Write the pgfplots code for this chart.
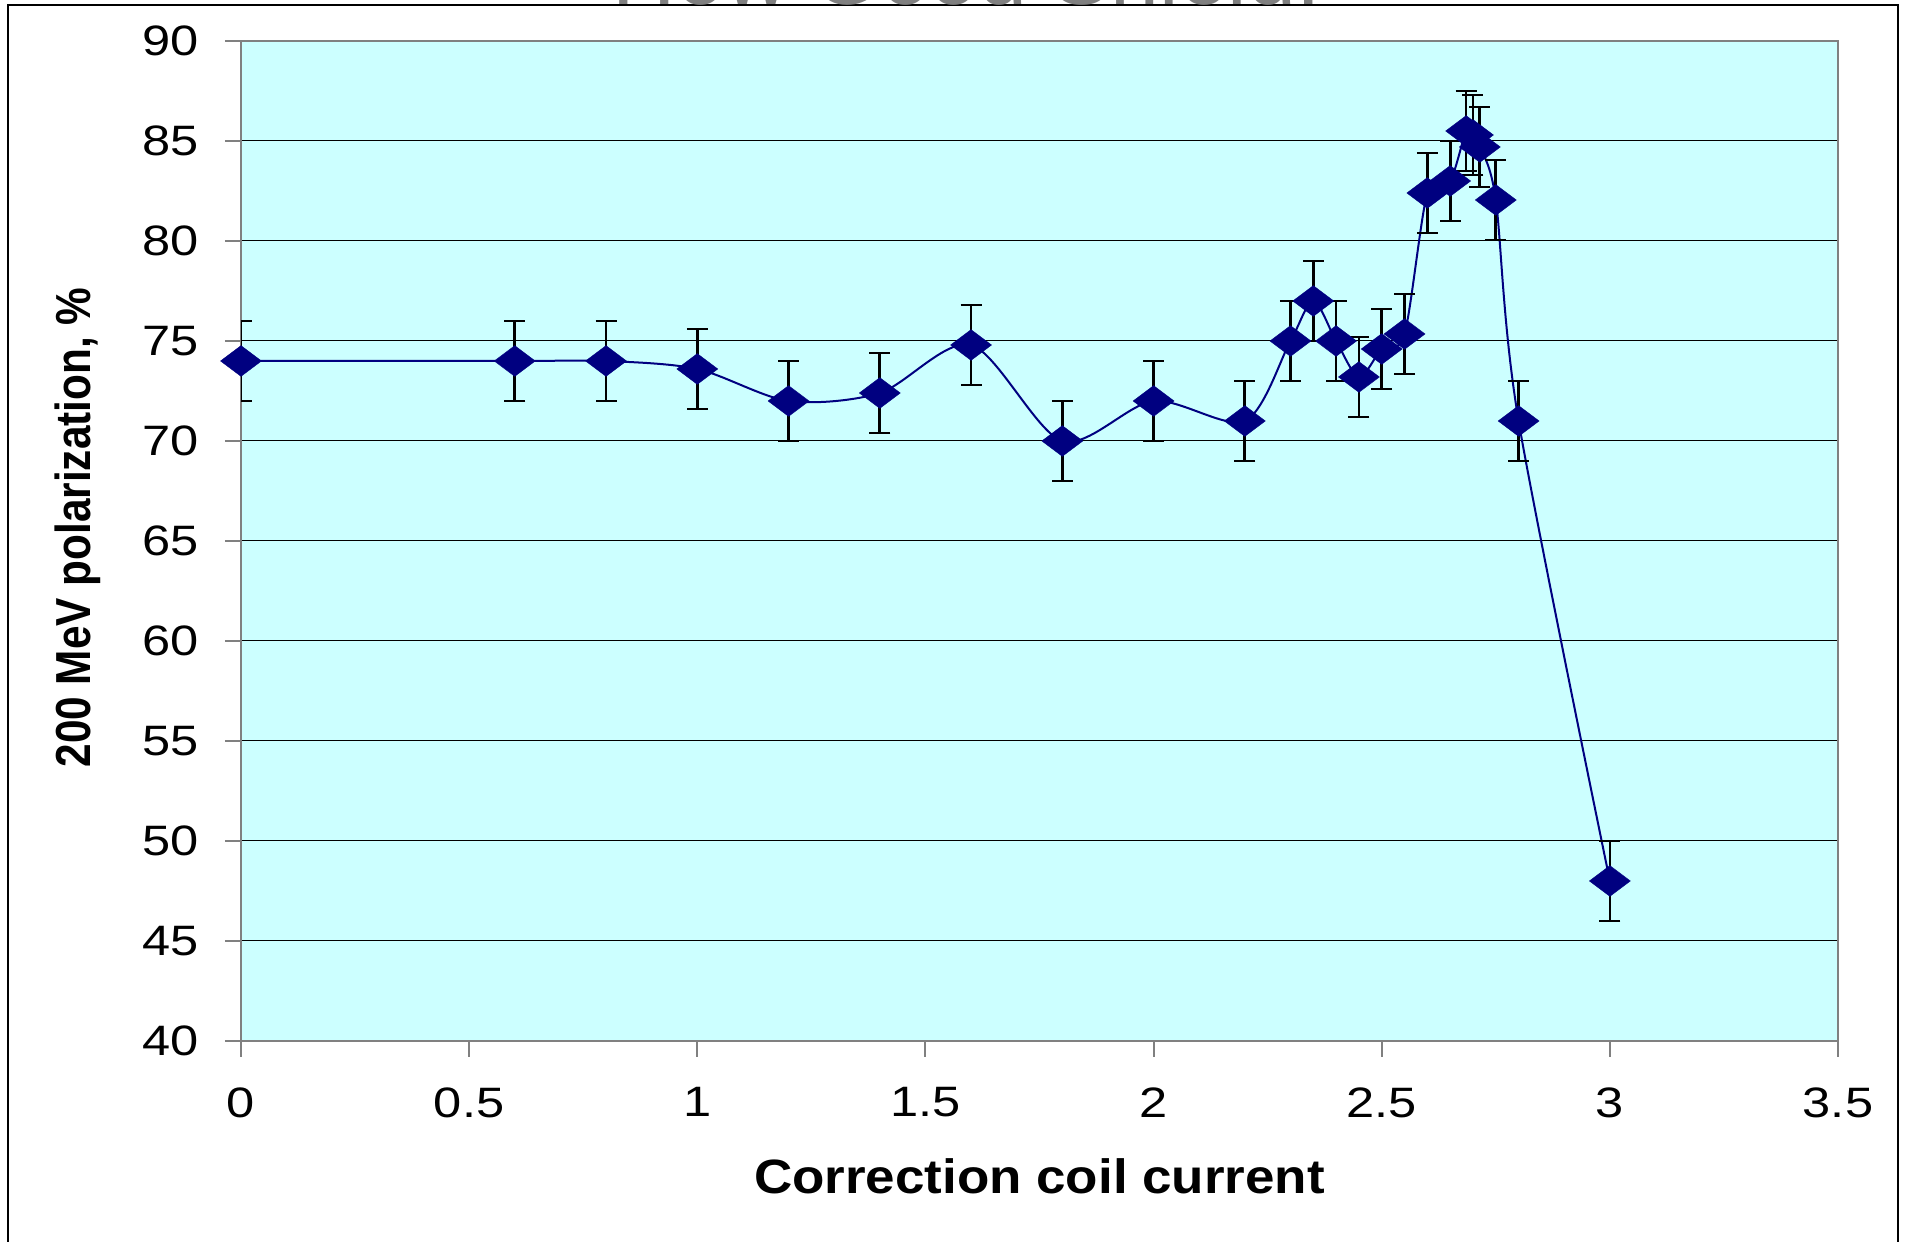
\documentclass[border=0pt]{standalone}
\usepackage{pgfplots}
\usepackage{pgfplotstable}
\pgfplotsset{compat=1.18}
\usepackage{fontspec}
\setmainfont{Liberation Sans}
\newfontfamily\tickfont[FakeStretch=1.19]{Liberation Sans}
\newfontfamily\xlabfont[FakeStretch=1.1]{Liberation Sans}
\newfontfamily\ylabfont[FakeStretch=0.86]{Liberation Sans}
\definecolor{navy}{RGB}{0,0,128}
\definecolor{bgcyan}{RGB}{204,255,255}
\definecolor{axgray}{RGB}{128,128,128}
\pgfplotstableread{
x y e
0 74 2
0.6 74 2
0.8 74 2
1.0 73.6 2
1.2 72 2
1.4 72.4 2
1.6 74.8 2
1.8 70 2
2.0 72 2
2.2 71 2
2.3 75 2
2.35 77 2
2.4 75 2
2.45 73.2 2
2.5 74.6 2
2.55 75.35 2
2.6 82.4 2
2.65 83 2
2.685 85.5 2
2.70 85.3 2
2.715 84.7 2
2.75 82.05 2
2.8 71 2
3.0 48 2
}\datatable
\begin{document}
\begin{tikzpicture}
\useasboundingbox (0mm,0mm) rectangle (190.9mm,124.2mm);
\begin{axis}[
  at={(24.1mm,20.1mm)}, anchor=south west,
  scale only axis, width=159.7mm, height=100mm,
  xmin=0, xmax=3.5, ymin=40, ymax=90,
  xtick={0,0.5,1,1.5,2,2.5,3,3.5},
  ytick={40,45,50,55,60,65,70,75,80,85,90},
  /pgf/number format/assume math mode=true,
  tick label style={font=\tickfont\fontsize{12.1pt}{13pt}\selectfont},
  yticklabel style={anchor=east, inner sep=0pt, xshift=-2.6mm},
  xticklabel style={anchor=north, inner sep=0pt, yshift=-3.0mm},
  major tick length=1.6mm, tick align=outside,
  xtick pos=bottom, ytick pos=left,
  axis line style={axgray, line width=0.2mm},
  tick style={axgray, line width=0.2mm},
  ymajorgrids, grid style={black, line width=0.1mm},
  axis background/.style={fill=bgcyan},
  xlabel={Correction coil current},
  xlabel style={font=\xlabfont\bfseries\fontsize{13.7pt}{15pt}\selectfont, at={(axis description cs:0.5,-0.135)}, anchor=center},
  ylabel={200 MeV polarization, \%},
  ylabel style={font=\ylabfont\bfseries\fontsize{14pt}{15pt}\selectfont, at={(axis description cs:-0.10207,0.5135)}, anchor=center},
]
\addplot[navy, line width=0.2mm, smooth, tension=0.5,
  mark=diamond*, mark size=2.05mm,
  mark options={rotate=90, fill=navy, draw=navy, line width=0.1pt, solid},
  error bars/.cd, y dir=both, y explicit,
  error bar style={black, line width=0.27mm, solid},
  error mark options={black, line width=0.27mm, mark size=1.05mm, rotate=90}]
  table[x=x, y=y, y error=e] {\datatable};
\end{axis}
\draw[black, line width=0.2mm] (0.75mm,-3mm) rectangle (189.77mm,123.65mm);
\node[anchor=base west, inner sep=0pt, text=axgray, font=\fontsize{25pt}{30pt}\selectfont] at (61.2mm,123.7mm) {How Good Shield.};
\end{tikzpicture}
\end{document}
